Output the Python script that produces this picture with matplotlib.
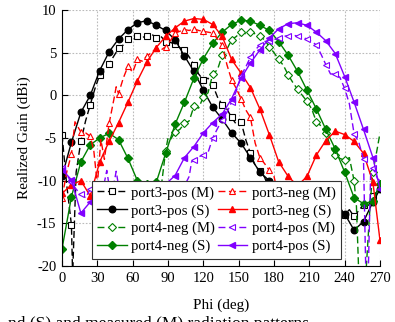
import matplotlib
matplotlib.use("Agg")
import matplotlib.pyplot as plt

plt.rcParams['font.family'] = ['Liberation Serif', 'DejaVu Serif']
plt.rcParams['axes.unicode_minus'] = False

# simulated curves share one phi grid (deg)
phi_sim = list(range(0, 265, 8)) + [270]

port3_pos_S = [-9.5, -5.5, -2.0, 0.0, 2.9, 5.1, 6.6, 7.7, 8.5, 8.75, 8.2, 7.6, 6.5, 4.6, 2.8, 0.6,
               -1.4, -2.8, -4.4, -5.6, -7.3, -9.0, -10.0, -11.2, -12.0, -12.5, -12.8, -13.0, -13.3,
               -13.5, -13.9, -15.8, -14.8, -12.5, -11.0]
port3_neg_S = [-11.5, -10.5, -10.0, -11.8, -7.8, -5.4, -3.2, -0.8, 1.7, 3.9, 5.6, 6.9, 7.9, 8.7, 9.0,
               8.9, 8.3, 6.9, 4.2, 2.6, 0.9, -1.6, -4.6, -7.8, -9.5, -10.6, -9.5, -7.0, -5.3, -4.2,
               -4.6, -5.4, -6.8, -10.2, -17.0]
port4_neg_S = [-18.0, -11.9, -7.8, -5.8, -5.0, -4.45, -5.2, -7.4, -10.0, -10.4, -10.2, -6.8, -3.4,
               -0.8, 2.0, 4.3, 6.1, 7.4, 8.3, 8.8, 8.7, 8.2, 7.6, 6.3, 4.7, 2.8, 0.6, -1.6, -4.0,
               -6.3, -9.0, -12.0, -12.7, -12.4, -10.4]
port4_pos_S = [-8.7, -9.9, -13.8, -12.5, -11.5, -11.5, -12.0, -12.0, -12.0, -11.5, -11.0, -10.4,
               -9.4, -7.3, -6.0, -4.4, -3.2, -2.2, -0.4, 2.0, 3.8, 5.3, 6.7, 7.8, 8.4, 8.5, 8.2,
               7.4, 6.4, 4.9, 2.2, -0.8, -4.0, -7.3, -11.0]

# measured curves
phi_p3pos_M = [0, 4, 8, 9, 12, 16, 20, 24, 28, 32, 36, 40, 44, 48, 52, 56, 60, 64, 68, 72, 76, 80,
               84, 88, 92, 96, 100, 104, 108, 112, 116, 120, 124, 128, 132, 136, 140, 144, 148,
               152, 156, 160, 164, 168, 172, 176, 180, 190, 200, 210, 220, 224, 228, 232, 236,
               240, 244, 248, 252, 256, 260, 264, 268, 270]
port3_pos_M = [-4.6, -10.5, -15.2, -21.0, -9.0, -5.4, -3.0, -1.1, 0.8, 2.4, 3.2, 3.7, 4.6, 5.5,
               5.9, 6.6, 6.5, 7.0, 6.8, 6.9, 7.2, 6.7, 6.9, 6.3, 6.2, 6.0, 5.6, 5.3, 4.5, 3.6, 2.5,
               1.8, 2.0, 1.2, -0.2, -1.1, -1.6, -2.6, -3.4, -3.1, -5.2, -6.8, -8.2, -8.9, -9.6,
               -11.0, -12.0, -12.5, -13.0, -13.0, -13.2, -13.4, -12.9, -13.8, -13.1, -14.0, -13.4,
               -14.2, -13.5, -12.8, -13.0, -11.8, -11.2, -10.8]

phi_p3neg_M = [0, 4, 8, 11, 16, 20, 24, 27, 30, 33, 36, 40, 44, 46, 48, 52, 56, 60, 64, 68, 72, 76,
               80, 84, 88, 92, 96, 100, 104, 108, 112, 116, 120, 124, 128, 132, 136, 140, 144, 148,
               152, 156, 160, 164, 168, 172, 176, 180, 184, 190, 200, 210, 220]
port3_neg_M = [-12.0, -9.0, -6.9, -3.1, -4.3, -4.4, -4.8, -6.5, -10.5, -5.2, -7.5, -3.3, -0.5, 1.0,
               0.2, 2.0, 3.4, 2.7, 4.2, 4.0, 4.6, 5.0, 5.5, 5.3, 5.7, 6.4, 7.3, 7.5, 7.7, 7.6, 7.8,
               7.6, 7.5, 7.4, 7.3, 6.6, 5.9, 3.6, 1.8, 0.8, -0.4, -1.7, -2.6, -5.6, -7.3, -8.0,
               -8.8, -9.5, -12.0, -15.0, -16.0, -16.5, -17.0]

phi_p4neg_M = [60, 70, 80, 84, 88, 90, 92, 96, 100, 104, 108, 112, 116, 120, 124, 128, 132, 136,
               140, 144, 148, 152, 156, 160, 164, 168, 172, 176, 180, 184, 188, 192, 196, 200, 204,
               208, 212, 216, 220, 224, 228, 232, 236, 240, 244, 248, 250, 252, 258, 262, 264, 268,
               270]
port4_neg_M = [-14.0, -13.0, -12.0, -11.0, -6.5, -5.0, -5.2, -4.3, -4.0, -3.3, -3.0, -1.3, -1.5,
               -0.2, 0.3, 2.5, 3.0, 4.7, 5.4, 6.5, 6.9, 7.45, 7.2, 7.45, 7.2, 6.9, 6.5, 5.7, 5.0,
               4.2, 3.5, 2.4, 1.5, 0.7, 0.0, -0.7, -1.6, -3.1, -3.6, -4.4, -6.0, -7.0, -7.4, -7.6,
               -7.3, -10.0, -13.0, -21.0, -21.0, -12.0, -9.0, -6.0, -4.4]

phi_p4pos_M = [0, 4, 8, 12, 16, 20, 24, 28, 32, 36, 38, 40, 44, 46, 48, 52, 60, 80, 100, 104, 108,
               110, 112, 116, 120, 124, 128, 132, 136, 140, 144, 148, 152, 156, 160, 164, 168, 172,
               176, 180, 184, 188, 192, 196, 200, 204, 208, 212, 216, 220, 224, 228, 232, 236, 240,
               244, 248, 252, 256, 258, 260, 262, 264, 268, 270]
port4_pos_M = [-8.5, -9.3, -10.2, -11.0, -11.6, -12.0, -11.0, -11.0, -10.6, -10.2, -8.8, -10.6,
               -10.4, -8.9, -10.6, -11.0, -11.5, -11.5, -11.0, -10.6, -9.5, -7.8, -7.6, -7.2, -7.0,
               -6.7, -5.0, -3.9, -2.9, -2.0, -0.8, 0.5, 2.3, 3.3, 4.5, 5.3, 5.9, 6.3, 6.4, 6.5, 6.7,
               6.9, 7.0, 7.1, 6.9, 6.8, 6.6, 6.3, 5.9, 4.8, 3.6, 2.5, 2.5, 2.1, 0.8, -1.0, -4.5,
               -5.5, -7.5, -21.0, -21.0, -9.5, -8.5, -9.8, -10.0]

x_ticks = [0, 30, 60, 90, 120, 150, 180, 210, 240, 270]
y_ticks = [-20, -15, -10, -5, 0, 5, 10]

BLACK = 'black'
RED = '#ff0000'
GREEN = '#008000'
PURPLE = '#8000ff'


def every8(phi):
    """ indices of the points that carry a marker (every 8 deg) """
    return [i for i, p in enumerate(phi) if p % 8 == 0]


fig = plt.figure(figsize=(3.95, 3.22), dpi=100)
ax = fig.add_axes([0.157, 0.174, 0.805, 0.795])

dash = (0, (5, 2.5))
ms = 4.7

# (M) then (S) for each port, legend fills column by column
ax.plot(phi_p3pos_M, port3_pos_M, color=BLACK, ls=dash, lw=1.0, marker='s', ms=ms - 0.6,
        mfc='white', mew=0.8, markevery=every8(phi_p3pos_M), label='port3-pos (M)')
ax.plot(phi_sim, port3_pos_S, color=BLACK, lw=1.0, marker='o', ms=ms, label='port3-pos (S)')
ax.plot(phi_p4neg_M, port4_neg_M, color=GREEN, ls=dash, lw=1.0, marker='D', ms=ms - 0.9,
        mfc='white', mew=0.8, markevery=every8(phi_p4neg_M), label='port4-neg (M)')
ax.plot(phi_sim, port4_neg_S, color=GREEN, lw=1.0, marker='D', ms=ms - 0.6, label='port4-neg (S)')
ax.plot(phi_p3neg_M, port3_neg_M, color=RED, ls=dash, lw=1.0, marker='^', ms=ms,
        mfc='white', mew=0.8, markevery=every8(phi_p3neg_M), label='port3-neg (M)')
ax.plot(phi_sim, port3_neg_S, color=RED, lw=1.0, marker='^', ms=ms, label='port3-neg (S)')
ax.plot(phi_p4pos_M, port4_pos_M, color=PURPLE, ls=dash, lw=1.0, marker='<', ms=ms,
        mfc='white', mew=0.8, markevery=every8(phi_p4pos_M), label='port4-pos (M)')
ax.plot(phi_sim, port4_pos_S, color=PURPLE, lw=1.0, marker='<', ms=ms, label='port4-pos (S)')

ax.set_xlim(0, 270)
ax.set_ylim(-20, 10)
ax.set_xticks(x_ticks)
ax.set_yticks(y_ticks)
ax.tick_params(direction='in', length=4, width=0.8, labelsize=10.5, pad=4)
ax.spines['top'].set_visible(False)
ax.spines['right'].set_visible(False)
ax.grid(True, color='#bbbbbb', linestyle=(0, (1.5, 1.5)), linewidth=0.8)
ax.set_axisbelow(True)

ax.set_xlabel('Phi (deg)', fontsize=11, labelpad=10)
ax.set_ylabel('Realized Gain (dBi)', fontsize=11, labelpad=4)

leg = ax.legend(ncol=2, loc='lower left', bbox_to_anchor=(0.094, 0.029), borderaxespad=0,
                fontsize=10.6, handlelength=2.0, handletextpad=0.3, columnspacing=0.2,
                labelspacing=0.3, borderpad=0.35, fancybox=False, framealpha=1,
                edgecolor='#333333')
leg.get_frame().set_linewidth(0.8)
leg.set_zorder(5)

# caption line cut by the image border
fig.text(0.02, 0.02, 'nd (S) and measured (M) radiation patterns', fontsize=12.5, va='top')

fig.savefig('out.png', dpi=100)
